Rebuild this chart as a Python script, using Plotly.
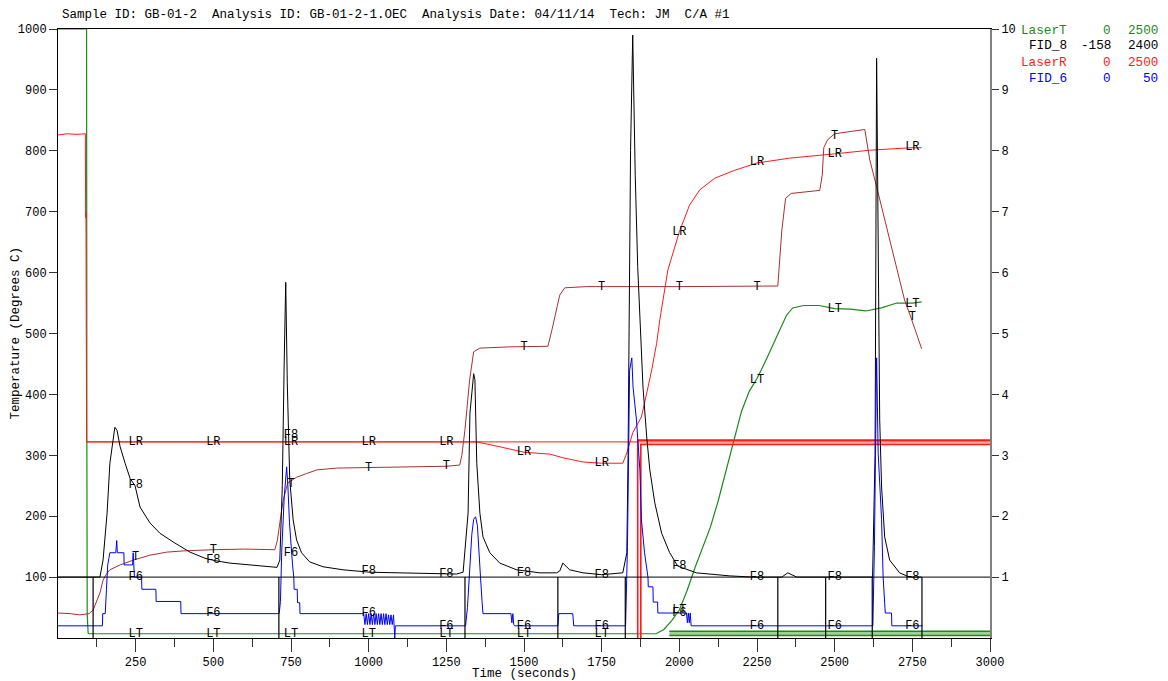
import plotly.graph_objects as go

# ---------------- data ----------------
# Oven temperature (T)
T_time = [0, 40, 70, 100, 113, 125, 135, 145, 156, 167, 185, 200, 243, 296, 350, 403, 500, 600, 698, 706,
          714, 725, 740, 768, 800, 833, 897, 1000, 1100, 1250, 1293, 1300, 1310, 1325, 1338, 1358, 1450, 1577,
          1590, 1605, 1615, 1631, 1700, 2000, 2317, 2330, 2342, 2360, 2452, 2460, 2465, 2477, 2500, 2597, 2613,
          2635, 2661, 2693, 2725, 2745, 2780]
T_val = [41, 40, 38, 40, 46, 60, 74, 95, 105, 112, 117, 120, 128, 136, 141, 143, 145, 146, 145, 160,
         189, 227, 255, 264, 270, 276, 279, 280, 281, 282, 284, 300, 342, 424, 470, 476, 478, 479,
         506, 540, 563, 575, 577, 577, 578, 670, 722, 730, 735, 760, 805, 818, 828, 835, 785,
         741, 686, 621, 555, 527, 475]

# Laser reflectance (LR)
LR_time = [0, 30, 60, 88, 89, 90, 92, 300, 600, 900, 1200, 1330, 1348, 1422, 1500, 1583, 1625, 1690, 1750,
           1818, 1831, 1850, 1878, 1895, 1911, 1927, 1937, 1963, 2000, 2033, 2066, 2114, 2178, 2250, 2355,
           2500, 2613, 2745, 2780]
LR_val = [826, 828, 827, 828, 690, 700, 322, 322, 321, 322, 322, 322, 322, 314, 305, 302, 296, 289, 287,
          287, 304, 337, 363, 402, 440, 484, 522, 604, 667, 711, 736, 755, 768, 780, 788,
          795, 801, 805, 805]
LR_ref_time = [92, 3000]
LR_ref_val = [322, 322]
split_time = [1866, 1876]
split_val = [325, 318]

# Laser transmittance (LT)
LT_time = [0, 92, 93, 94, 97, 100, 500, 1000, 1500, 1900, 1925, 1950, 1975, 2000, 2025, 2050, 2075, 2100,
           2125, 2150, 2175, 2200, 2225, 2250, 2275, 2300, 2325, 2345, 2365, 2400, 2450, 2500, 2550, 2600,
           2650, 2700, 2750, 2780]
LT_val = [1000, 1000, 300, 40, 8, 7, 7, 7, 7, 6, 7, 14, 28, 46, 78, 115, 150, 182,
          225, 275, 326, 372, 405, 426, 452, 480, 510, 530, 542, 546, 546, 541, 540, 537,
          542, 550, 550, 552]
LT_band_time = [1968, 3000]
LT_band_lo = [4, 4]
LT_band_hi = [11, 11]

# FID_8 (F8)
F8_time = [0, 135, 145, 158, 167, 177, 183, 190, 200, 216, 232, 248, 264, 296, 328, 376, 425, 473, 505, 553,
           618, 682, 705, 714, 722, 728, 733, 738, 746, 757, 768, 784, 810, 853, 917, 1004, 1154, 1283, 1304,
           1320, 1326, 1338, 1342, 1348, 1358, 1368, 1390, 1422, 1476, 1551, 1605, 1615, 1625, 1647, 1690,
           1750, 1818, 1831, 1835, 1843, 1850, 1858, 1866, 1873, 1883, 1895, 1905, 1921, 1943, 1969, 1995,
           2055, 2162, 2237, 2330, 2349, 2378, 2622, 2630, 2635, 2645, 2651, 2661, 2677, 2709, 2741, 2780]
F8_val = [100, 100, 128, 205, 287, 330, 346, 341, 314, 287, 262, 250, 215, 189, 172, 156, 141, 131, 127, 123,
          120, 117, 116, 128, 250, 450, 584, 420, 259, 194, 161, 140, 125, 117, 112, 108, 107, 105, 108,
          205, 369, 434, 424, 287, 205, 166, 140, 123, 112, 107, 107, 110, 123, 112, 107,
          104, 107, 140, 300, 800, 990, 760, 610, 522, 412, 330, 276, 222, 172, 140, 118,
          107, 102, 100, 100, 107, 100, 100, 300, 952, 358, 248, 166, 128, 107, 100, 100]

# FID_6 (F6)
F6_time = [0, 143, 144, 152, 156, 160, 167, 186, 189, 191, 212, 213, 240, 242, 244, 246, 269, 270, 315, 316,
           395, 396, 712, 716, 720, 728, 736, 740, 745, 750, 755, 759, 760, 770, 771, 778, 779,
           984, 988, 992, 996, 1000, 1004, 1008, 1012, 1016, 1020, 1024, 1028, 1032, 1036, 1040, 1044, 1048,
           1052, 1056, 1060, 1064, 1068, 1072, 1076, 1080, 1084, 1086, 1094,
           1312, 1318, 1325, 1332, 1338, 1344, 1350, 1355, 1360, 1365, 1368, 1458, 1461, 1464, 1467, 1470,
           1609, 1612, 1657, 1660, 1827, 1833, 1840, 1847, 1851, 1862, 1873, 1878, 1888, 1899, 1900, 1915,
           1916, 1930, 1931, 2023, 2026, 2029, 2032, 2035, 2038, 2623, 2628, 2635, 2640, 2651, 2656, 2661,
           2663, 2683, 2684, 2783]
F6_val = [20, 20, 40, 40, 80, 120, 140, 140, 160, 140, 140, 120, 120, 140, 120, 100, 100, 80, 80, 60,
          60, 40, 40, 60, 140, 230, 281, 250, 190, 145, 120, 100, 80, 80, 58, 58, 40,
          40, 22, 40, 22, 40, 22, 40, 22, 40, 22, 40, 22, 40, 22, 40, 22, 40,
          22, 40, 22, 38, 22, 38, 22, 38, 0, 20, 20,
          20, 50, 110, 170, 195, 199, 185, 150, 100, 60, 40, 40, 25, 40, 22, 20,
          20, 40, 40, 20, 20, 150, 440, 460, 412, 358, 276, 194, 140, 100, 84, 84,
          59, 59, 41, 41, 25, 41, 25, 41, 20, 20, 150, 460, 304, 194, 100, 57,
          41, 41, 20, 20]

# FID split markers (right-axis units) and baseline
marker_times = [113, 711, 1310, 1609, 1826, 2317, 2471, 2621, 2781]
marker_top = 1
baseline_time = [0, 3000]
baseline_val = [1, 1]

# Curve labels every 250 s
label_times = [250, 500, 750, 1000, 1250, 1500, 1750, 2000, 2250, 2500, 2750]
LR_lbl = [322, 322, 322, 322, 322, 305, 287, 667, 781, 795, 806]
T_lbl = [133, 145, 253, 279, 282, 478, 576, 576, 576, 824, 527]
F8_lbl = [251, 128, 333, 110, 105, 106, 103, 118, 100, 100, 100]
F6_lbl = [100, 41, 140, 41, 20, 20, 20, 41, 20, 20, 20]
LT_lbl = [6, 6, 6, 6, 6, 6, 6, 46, 424, 540, 548]

# Channel table (top right)
chan_names = ["LaserT", "FID_8", "LaserR", "FID_6"]
chan_min = [0, -158, 0, 0]
chan_max = [2500, 2400, 2500, 50]
chan_colors = ["#1a8a1a", "#000000", "#ff2020", "#0000ff"]

x_ticks = [250, 500, 750, 1000, 1250, 1500, 1750, 2000, 2250, 2500, 2750, 3000]
x_minor = [125, 375, 625, 875, 1125, 1375, 1625, 1875, 2125, 2375, 2625, 2875]
y_ticks = [100, 200, 300, 400, 500, 600, 700, 800, 900, 1000]
y2_ticks = [1, 2, 3, 4, 5, 6, 7, 8, 9, 10]

title_text = "Sample ID: GB-01-2  Analysis ID: GB-01-2-1.OEC  Analysis Date: 04/11/14  Tech: JM  C/A #1"

# ---------------- colours / style ----------------
C_T = "#a83030"
C_LR = "#ff1a1a"
C_LT = "#1a8a1a"
C_F8 = "#000000"
C_F6 = "#0000ff"
MONO = "Liberation Mono"

# the page body has a default 8px margin; the figure is sized so the plot area
# lands at screen pixels x 58..990, y 29..638
OFF = 8

fig = go.Figure()


def line(x, y, color, width=1.0, yaxis="y", **kw):
    fig.add_trace(go.Scatter(x=x, y=y, mode="lines", line=dict(color=color, width=width),
                             yaxis=yaxis, hoverinfo="skip", showlegend=False, **kw))


# Laser transmittance band + curve
line(LT_band_time, LT_band_lo, C_LT, 1.5)
line(LT_band_time, LT_band_hi, C_LT, 1.5, fill="tonexty", fillcolor="rgba(40,150,40,0.45)")
line(LT_time, LT_val, C_LT, 1.2)

# FID split markers & baseline (right axis)
mx, my = [], []
for t in marker_times:
    mx += [t, t, None]
    my += [0, marker_top, None]
line(mx, my, "#000000", 1.2, yaxis="y2")
line(baseline_time, baseline_val, "#000000", 1.0, yaxis="y2")

# Laser reflectance
line(LR_ref_time, LR_ref_val, C_LR, 1.0)
for st, sv in zip(split_time, split_val):
    line([st, st, 3000], [0, sv, sv], C_LR, 1.6)
line(LR_time, LR_val, C_LR, 1.0)

# Temperature
line(T_time, T_val, C_T, 1.0)

# FIDs
line(F8_time, F8_val, C_F8, 1.0)
line(F6_time, F6_val, C_F6, 1.0)

# curve labels
for vals, txt in [(LR_lbl, "LR"), (T_lbl, "T"), (F8_lbl, "F8"), (F6_lbl, "F6"), (LT_lbl, "LT")]:
    fig.add_trace(go.Scatter(x=label_times, y=vals, mode="text", text=[txt] * len(vals),
                             textposition="middle center", cliponaxis=False,
                             textfont=dict(family=MONO, size=12, color="#000000"),
                             hoverinfo="skip", showlegend=False))

tickfont = dict(family=MONO, size=12, color="#000000")

fig.update_layout(
    width=1168 - OFF, height=681 - OFF,
    margin=dict(l=58 - OFF, r=178, t=29 - OFF, b=43, autoexpand=False),
    plot_bgcolor="white", paper_bgcolor="white",
    showlegend=False,
    xaxis=dict(range=[0, 3000], tickmode="array", tickvals=x_ticks,
               ticks="outside", ticklen=13, tickwidth=1, tickcolor="#333333",
               showline=True, linecolor="#000000", linewidth=1, mirror=True,
               showgrid=False, zeroline=False, tickfont=tickfont,
               minor=dict(tickmode="array", tickvals=x_minor, ticks="outside", ticklen=8,
                          tickwidth=1, tickcolor="#333333", showgrid=False)),
    yaxis=dict(range=[0, 1000], tickmode="array", tickvals=y_ticks,
               ticks="outside", ticklen=8, tickwidth=1, tickcolor="#333333",
               showline=True, linecolor="#000000", linewidth=1,
               showgrid=False, zeroline=False, tickfont=tickfont),
    yaxis2=dict(range=[0, 10], overlaying="y", side="right", tickmode="array", tickvals=y2_ticks,
                ticks="outside", ticklen=7, tickwidth=1, tickcolor="#333333",
                showline=True, linecolor="#808080", linewidth=2,
                showgrid=False, zeroline=False, tickfont=tickfont),
)

ann = []
ann.append(dict(text=title_text, xref="paper", yref="paper", x=0.002, y=(638 - 15.5) / 609,
                xanchor="left", yanchor="middle", showarrow=False,
                font=dict(family=MONO, size=12.5, color="#000000")))
ann.append(dict(text="Time (seconds)", xref="paper", yref="paper", x=0.5, y=(638 - 674) / 609,
                xanchor="center", yanchor="middle", showarrow=False,
                font=dict(family=MONO, size=12.5, color="#000000")))
ann.append(dict(text="Temperature (Degrees C)", xref="paper", yref="paper", x=(15 - 58) / 932, y=0.5,
                xanchor="center", yanchor="middle", textangle=-90, showarrow=False,
                font=dict(family=MONO, size=12.5, color="#000000")))
row_y = [30, 46, 62, 78]
for name, lo, hi, col, py in zip(chan_names, chan_min, chan_max, chan_colors, row_y):
    yp = (638 - py) / 609
    for txt, px in [(name, 1069), (str(lo), 1113), (str(hi), 1160)]:
        ann.append(dict(text=txt, xref="paper", yref="paper", x=(px - 58) / 932, y=yp,
                        xanchor="right", yanchor="middle", showarrow=False,
                        font=dict(family=MONO, size=12.7, color=col)))
fig.update_layout(annotations=ann)

fig.write_html("out.html")
